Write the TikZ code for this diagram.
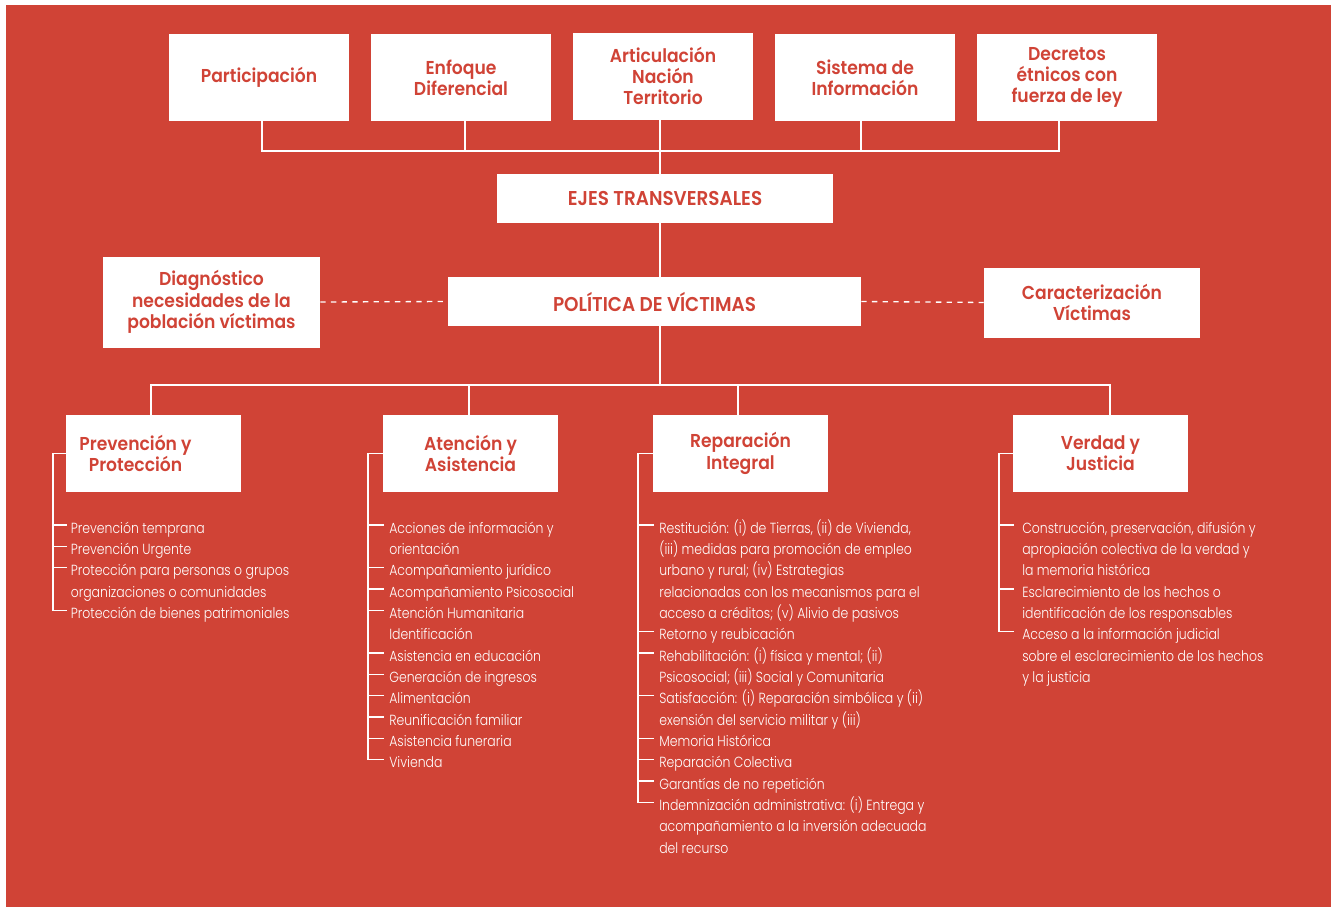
\documentclass[tikz,border=0pt]{standalone}
\usepackage{fontspec}
\setmainfont{Poppins}
\newfontfamily\hfont{Poppins SemiBold}[FakeStretch=0.92]
\newfontfamily\lfont{Poppins Light}[FakeStretch=0.85]
\usetikzlibrary{calc}
\definecolor{bgred}{RGB}{208,67,54}
\tikzset{
  hbox/.style={fill=white, text=bgred, font=\hfont\fontsize{14}{16}\selectfont, align=center, inner sep=0pt},
  capbox/.style={hbox, font=\hfont\fontsize{15}{16}\selectfont, minimum height=36.75pt},
  topbox/.style={hbox, minimum width=135pt, minimum height=65.25pt},
  botbox/.style={hbox, minimum width=131.25pt, minimum height=57.75pt},
  wire/.style={draw=white, line width=1pt},
  dashline/.style={draw=white, line width=1pt, dash pattern=on 4pt off 4pt},
  item/.style={anchor=north west, inner sep=0pt, text=white, align=left, font=\lfont\fontsize{11}{16}\selectfont},
}
\begin{document}
\begin{tikzpicture}[x=0.75pt,y=-0.75pt]
\useasboundingbox (0,0) rectangle (1331,907);
\fill[bgred] (6,5) rectangle (1331,907);

% top boxes
\node[topbox] (p1) at (259,77.5) {Participación};
\node[topbox] (p2) at (461,77.5) {Enfoque\\Diferencial};
\node[topbox] (p3) at (663,76) {Articulación\\Nación\\Territorio};
\node[topbox] (p4) at (865,77.5) {Sistema de\\Información};
\node[topbox] (p5) at (1067,77.5) {Decretos\\étnicos con\\fuerza de ley};

\node[capbox, minimum width=252pt] (ejes) at (665,198.5) {EJES TRANSVERSALES};
\node[capbox, minimum width=309.75pt] (pol) at (654.5,301.5) {POLÍTICA DE VÍCTIMAS};
\node[hbox, minimum width=162.75pt, minimum height=68.25pt] (diag) at (211.5,302) {Diagnóstico\\necesidades de la\\población víctimas};
\node[hbox, minimum width=162pt, minimum height=52.5pt] (car) at (1092,302.5) {Caracterización\\Víctimas};

\node[botbox] (b1) at (153.5,453.5) {Prevención y\hspace*{27pt}\\Protección\hspace*{27pt}};
\node[botbox] (b2) at (470.5,453.5) {Atención y\\Asistencia};
\node[botbox] (b3) at (740.5,453.5) {Reparación\\Integral};
\node[botbox] (b4) at (1100.5,453.5) {Verdad y\\Justicia};

% connectors top
\coordinate (busTop) at (660,151);
\coordinate (busBot) at (660,385);
\draw[wire] ([xshift=2.25pt]p1.south) |- ([xshift=-6pt]p5.south |- busTop) -- ([xshift=-6pt]p5.south);
\draw[wire] ([xshift=3pt]p2.south) -- ([xshift=3pt]p2.south |- busTop);
\draw[wire] ([xshift=-3pt]p4.south) -- ([xshift=-3pt]p4.south |- busTop);
\draw[wire] (busTop |- p3.south) -- (busTop |- ejes.north);
\draw[wire] (busTop |- ejes.south) -- (busTop |- pol.north);
\draw[wire] (busTop |- pol.south) -- (busBot);
\draw[wire] ([xshift=-1.9pt]b1.north) |- ([xshift=7.1pt]b4.north |- busBot) -- ([xshift=7.1pt]b4.north);
\draw[wire] ([xshift=-1.1pt]b2.north) -- ([xshift=-1.1pt]b2.north |- busBot);
\draw[wire] ([xshift=-1.9pt]b3.north) -- ([xshift=-1.9pt]b3.north |- busBot);

\draw[dashline] (diag.east) -- (pol.west);
\draw[dashline] (pol.east) -- (car.west);

% list A
\coordinate (rA) at (53,0);
\node[item] (a1) at (70.5,518.07) {\strut Prevención temprana};
\node[item] (a2) at (70.5,539.4) {\strut Prevención Urgente};
\node[item] (a3) at (70.5,560.73) {\strut Protección para personas o grupos\\organizaciones o comunidades};
\node[item] (a4) at (70.5,603.4) {\strut Protección de bienes patrimoniales};
\draw[wire] (b1.west) -- (b1.west -| rA) -- ($(rA |- a4.north west)+(0,7)$) -- ++(14,0);
\foreach \n in {a1,a2,a3} \draw[wire] (rA |- \n.north west) ++(0,7) -- ++(14,0);

% list B
\coordinate (rB) at (368,0);
\node[item] (c1) at (389,518.07) {\strut Acciones de información y\\orientación};
\node[item] (c2) at (389,560.73) {\strut Acompañamiento jurídico};
\node[item] (c3) at (389,582.07) {\strut Acompañamiento Psicosocial};
\node[item] (c4) at (389,603.4) {\strut Atención Humanitaria\\Identificación};
\node[item] (c5) at (389,646.07) {\strut Asistencia en educación};
\node[item] (c6) at (389,667.4) {\strut Generación de ingresos};
\node[item] (c7) at (389,688.73) {\strut Alimentación};
\node[item] (c8) at (389,710.07) {\strut Reunificación familiar};
\node[item] (c9) at (389,731.4) {\strut Asistencia funeraria};
\node[item] (c10) at (389,752.73) {\strut Vivienda};
\draw[wire] (b2.west) -- (b2.west -| rB) -- ($(rB |- c10.north west)+(0,7)$) -- ++(16,0);
\foreach \n in {c1,c2,c3,c4,c5,c6,c7,c8,c9} \draw[wire] (rB |- \n.north west) ++(0,7) -- ++(16,0);

% list C
\coordinate (rC) at (638,0);
\node[item] (d1) at (659,518.07) {\strut Restitución: (i) de Tierras, (ii) de Vivienda,\\(iii) medidas para promoción de empleo\\urbano y rural; (iv) Estrategias\\relacionadas con los mecanismos para el\\acceso a créditos; (v) Alivio de pasivos};
\node[item] (d2) at (659,624.73) {\strut Retorno y reubicación};
\node[item] (d3) at (659,646.07) {\strut Rehabilitación: (i) física y mental; (ii)\\Psicosocial; (iii) Social y Comunitaria};
\node[item] (d4) at (659,688.73) {\strut Satisfacción: (i) Reparación simbólica y (ii)\\exensión del servicio militar y (iii)};
\node[item] (d5) at (659,731.4) {\strut Memoria Histórica};
\node[item] (d6) at (659,752.73) {\strut Reparación Colectiva};
\node[item] (d7) at (659,774.07) {\strut Garantías de no repetición};
\node[item] (d8) at (659,795.4) {\strut Indemnización administrativa: (i) Entrega y\\acompañamiento a la inversión adecuada\\del recurso};
\draw[wire] (b3.west) -- (b3.west -| rC) -- ($(rC |- d8.north west)+(0,7)$) -- ++(16,0);
\foreach \n in {d1,d2,d3,d4,d5,d6,d7} \draw[wire] (rC |- \n.north west) ++(0,7) -- ++(16,0);

% list D
\coordinate (rD) at (999,0);
\node[item] (e1) at (1022,518.07) {\strut Construcción, preservación, difusión y\\apropiación colectiva de la verdad y\\la memoria histórica};
\node[item] (e2) at (1022,582.07) {\strut Esclarecimiento de los hechos o\\identificación de los responsables};
\node[item] (e3) at (1022,624.73) {\strut Acceso a la información judicial\\sobre el esclarecimiento de los hechos\\y la justicia};
\draw[wire] (b4.west) -- (b4.west -| rD) -- ($(rD |- e3.north west)+(0,7)$) -- ++(15,0);
\foreach \n in {e1,e2} \draw[wire] (rD |- \n.north west) ++(0,7) -- ++(15,0);
\end{tikzpicture}
\end{document}
